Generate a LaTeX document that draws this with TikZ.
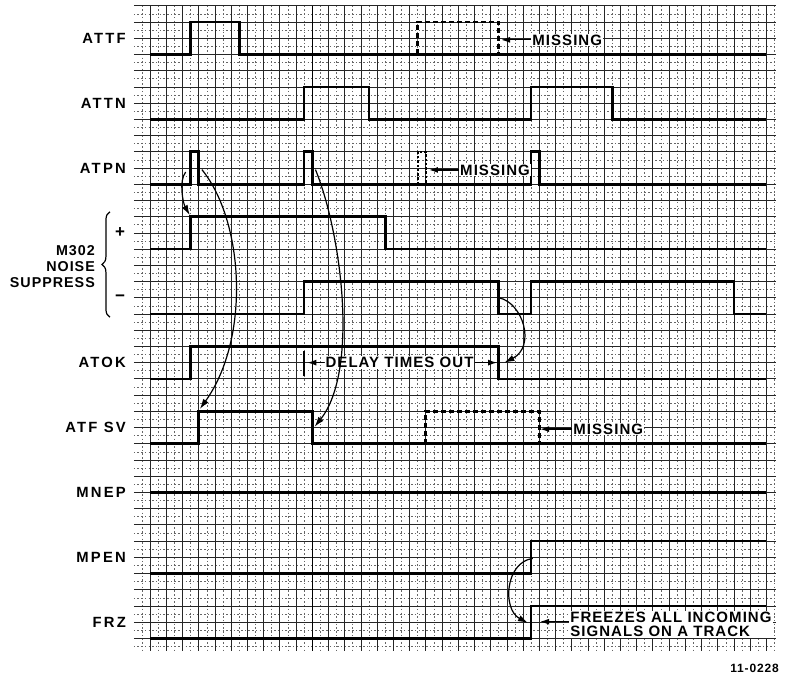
\documentclass[tikz,border=0pt]{standalone}
\usepackage{fontspec}
\setmainfont{Liberation Sans}
\newfontfamily\labelfont[LetterSpace=15]{Liberation Sans}
\newfontfamily\notefont[LetterSpace=7]{Liberation Sans}
\usepackage{tikz}
\usetikzlibrary{arrows, arrows.meta, decorations.pathreplacing}
\tikzstyle{major} = [black!85, line width=0.7pt]
\tikzstyle{minor} = [black!60, line width=0.55pt, dash pattern=on 1.5pt off 2.2pt]
\tikzstyle{signal} = [line width=2.6pt, line join=miter]
\tikzstyle{lost} = [line width=2.8pt, dash pattern=on 5pt off 3pt]
\tikzstyle{siglabel} = [anchor=east, inner sep=0pt, font=\labelfont\bfseries\fontsize{14.8}{16}\selectfont]
\tikzstyle{note} = [fill=white, inner sep=1pt, font=\notefont\bfseries\fontsize{15}{14}\selectfont]
\tikzstyle{arrow} = [-{Latex[length=9pt, width=6pt]}, line width=1.3pt]
\tikzstyle{curve} = [-{Latex[length=10pt, width=6.5pt]}, line width=1.2pt]

\begin{document}
\begin{tikzpicture}[x=16.22pt, y=-16.22pt]

\useasboundingbox (-9.248, -1.356) rectangle (39.21, 40.94);

% Graph paper
\foreach \c in {-0.5, 0.5, ..., 38.5}
  \draw [minor] (\c, -1) -- (\c, 38.8);
\foreach \r in {-0.5, 0.5, ..., 38.5}
  \draw [minor] (-1, \r) -- (38.6, \r);
\foreach \c in {0, ..., 38}
  \draw [major] (\c, -1) -- (\c, 38.8);
\foreach \r in {-1, ..., 38}
  \draw [major] (-1, \r) -- (38.6, \r);
\draw [major, line width=1.2pt, black] (10, -1) -- (10, 38.8);

% Signal names
\node [siglabel] (attf) at (-1.48, 1) {ATTF};
\node [siglabel] (attn) at (-1.48, 5) {ATTN};
\node [siglabel] (atpn) at (-1.48, 9) {ATPN};
\node [siglabel] (atok) at (-1.48, 21) {ATOK};
\node [siglabel] (atfsv) at (-1.48, 25) {ATF SV};
\node [siglabel] (mnep) at (-1.48, 29) {MNEP};
\node [siglabel] (mpen) at (-1.48, 33) {MPEN};
\node [siglabel] (frz) at (-1.48, 37) {FRZ};

\node [siglabel, align=right, font=\notefont\bfseries\fontsize{14.3}{16}\selectfont] (nsp) at (-3.39, 15.07) {M302\\NOISE\\SUPPRESS};
\draw [decorate, decoration={brace, amplitude=8pt}, line width=1.2pt] (-2.47, 18.2) -- (-2.47, 11.7);
\node [inner sep=0pt, font=\bfseries\fontsize{17}{17}\selectfont] (plus) at (-1.85, 13) {+};
\node [inner sep=0pt, font=\bfseries\fontsize{17}{17}\selectfont] (minus) at (-1.85, 17) {\char"2212};

% Traces
\draw [signal] (0, 2) -- (2.5, 2) -- (2.5, 0) -- (5.5, 0) -- (5.5, 2) -- (38, 2);
\draw [lost] (16.5, 2) -- (16.5, 0) -- (21.5, 0) -- (21.5, 2);

\draw [signal] (0, 6) -- (9.5, 6) -- (9.5, 4) -- (13.5, 4) -- (13.5, 6) -- (23.5, 6)
  -- (23.5, 4) -- (28.5, 4) -- (28.5, 6) -- (38, 6);

\draw [signal] (0, 10) -- (2.5, 10) -- (2.5, 8) -- (3, 8) -- (3, 10) -- (9.5, 10)
  -- (9.5, 8) -- (10, 8) -- (10, 10) -- (23.5, 10) -- (23.5, 8) -- (24, 8) -- (24, 10) -- (38, 10);
\draw [line width=2.2pt, dash pattern=on 2.5pt off 1.8pt] (16.5, 10) -- (16.5, 8) -- (17, 8) -- (17, 10);

\draw [signal] (0, 14) -- (2.5, 14) -- (2.5, 12) -- (14.5, 12) -- (14.5, 14) -- (38, 14);

\draw [signal] (0, 18) -- (9.5, 18) -- (9.5, 16) -- (21.5, 16) -- (21.5, 18) -- (23.5, 18)
  -- (23.5, 16) -- (36, 16) -- (36, 18) -- (38, 18);

\draw [signal] (0, 22) -- (2.5, 22) -- (2.5, 20) -- (21.5, 20) -- (21.5, 22) -- (38, 22);

\draw [signal] (0, 26) -- (3, 26) -- (3, 24) -- (10, 24) -- (10, 26) -- (38, 26);
\draw [lost] (17, 26) -- (17, 24) -- (24, 24) -- (24, 26);

\draw [signal] (0, 29) -- (38, 29);

\draw [signal] (0, 34) -- (23.5, 34) -- (23.5, 32) -- (38, 32);

\draw [signal] (0, 38) -- (23.5, 38) -- (23.5, 36) -- (38, 36);

% Notes
\node [note, anchor=west] (attf missing) at (23.5, 1.1) {MISSING};
\coordinate (attf gap) at (21.64, 1.1);
\draw [arrow] (attf missing) -- (attf gap);

\node [note, anchor=west] (atpn missing) at (19.05, 9.12) {MISSING};
\coordinate (atpn gap) at (17.2, 9.12);
\draw [arrow] (atpn missing) -- (atpn gap);

\node [note, anchor=west] (sv missing) at (26.03, 25.1) {MISSING};
\coordinate (sv gap) at (24.05, 25.1);
\draw [arrow] (sv missing) -- (sv gap);

\node [note, anchor=west] (delay) at (10.75, 21) {DELAY TIMES OUT};
\coordinate (delay start) at (9.7, 21);
\coordinate (delay end) at (21.4, 21);
\draw [line width=1.8pt] (9.5, 20.3) -- (9.5, 21.8);
\draw [arrow] (delay) -- (delay start);
\draw [arrow] (delay) -- (delay end);

\node [note, anchor=west, align=left] (freeze) at (25.84, 37.16) {FREEZES ALL INCOMING\\SIGNALS ON A TRACK};
\coordinate (frz edge) at (24.05, 36.97);
\draw [arrow] (freeze.west |- frz edge) -- (frz edge);

% Cause and effect
\coordinate (atpn one) at (2.2, 9.25);
\coordinate (atpn two) at (3.2, 9.1);
\coordinate (atpn three) at (10.2, 9.1);
\coordinate (plus rise) at (2.45, 11.9);
\coordinate (sv rise) at (3.08, 23.85);
\coordinate (sv fall) at (10.15, 24.95);
\coordinate (minus fall) at (21.5, 17.0);
\coordinate (atok fall) at (21.85, 21.0);
\coordinate (mpen rise) at (23.6, 33.07);
\coordinate (frz rise) at (23.3, 37.05);

\draw [curve] (atpn one) .. controls (1.75, 9.8) and (2.05, 11.2) .. (plus rise);
\draw [curve] (atpn two) .. controls (5.8, 12.3) and (6.2, 19.5) .. (sv rise);
\draw [curve] (atpn three) .. controls (11.8, 13) and (12.9, 21.5) .. (sv fall);
\draw [curve] (minus fall) .. controls (23.0, 17.3) and (23.8, 20.0) .. (atok fall);
\draw [curve] (mpen rise) .. controls (21.9, 33.3) and (21.7, 36.2) .. (frz rise);

\node [font=\notefont\bfseries\fontsize{12}{12}\selectfont] (figno) at (37.27, 39.83) {11-0228};

\end{tikzpicture}
\end{document}
